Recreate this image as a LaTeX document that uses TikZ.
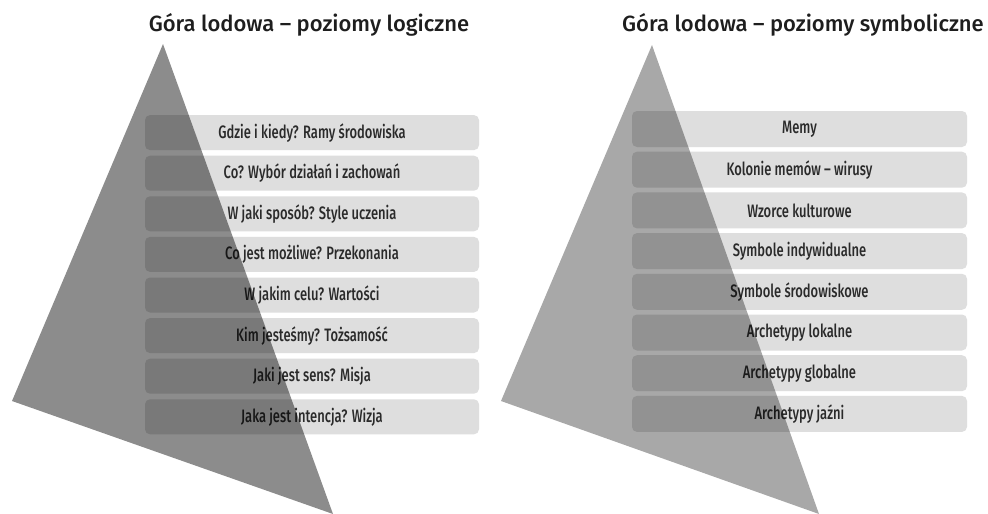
\documentclass[tikz,border=0pt]{standalone}
\usepackage{fontspec}
\usepackage{xcolor}
\setmainfont{Lato}
\newfontfamily\titlefont{Fira Sans Medium}
\newfontfamily\levelfont[FakeStretch=0.72]{Fira Sans Medium}
\definecolor{boxGray}{HTML}{DEDEDE}
\definecolor{txtGray}{HTML}{2A2A2A}
\definecolor{ttlGray}{HTML}{1E1E1E}

\begin{document}
\begin{tikzpicture}[
  x=1pt, y=-1pt,
  level/.style={
    rectangle, rounded corners=5pt,
    fill=boxGray,
    minimum width=334pt, minimum height=35pt, inner sep=0pt,
    font=\levelfont\fontsize{18}{18}\selectfont,
    text=txtGray,
  },
  title/.style={
    font=\titlefont\fontsize{22}{22}\selectfont,
    text=ttlGray,
  },
  berg/.style={fill=black, fill opacity=#1},
]
\useasboundingbox (0,0) rectangle (988,514);
\fill[white] (0,0) rectangle (988,514);

%
% ─── POZIOMY LOGICZNE ───
\node[title] (titleLog) at (309,25) {Góra lodowa – poziomy logiczne};
\foreach \t [count=\i] in {
    Gdzie i kiedy? Ramy środowiska,
    Co? Wybór działań i zachowań,
    W jaki sposób? Style uczenia,
    Co jest możliwe? Przekonania,
    W jakim celu? Wartości,
    Kim jesteśmy? Tożsamość,
    Jaki jest sens? Misja,
    Jaka jest intencja? Wizja}
  \node[level] (logic\i) at (312, {92+40.6*\i}) {\t};
\fill[berg=0.45] (163,44) -- (12,401) -- (333,514) -- cycle;

%
% ─── POZIOMY SYMBOLICZNE ───
\node[title] (titleSym) at (803,25) {Góra lodowa – poziomy symboliczne};
\foreach \t [count=\i] in {
    Memy,
    Kolonie memów – wirusy,
    Wzorce kulturowe,
    Symbole indywidualne,
    Symbole środowiskowe,
    Archetypy lokalne,
    Archetypy globalne,
    Archetypy jaźni}
  \node[level, minimum height=36pt, minimum width=335pt] (symbol\i) at (799.5, {88.3+40.7*\i}) {\t};
\fill[berg=0.34] (652,45) -- (501,401) -- (819,514) -- cycle;

\end{tikzpicture}
\end{document}
